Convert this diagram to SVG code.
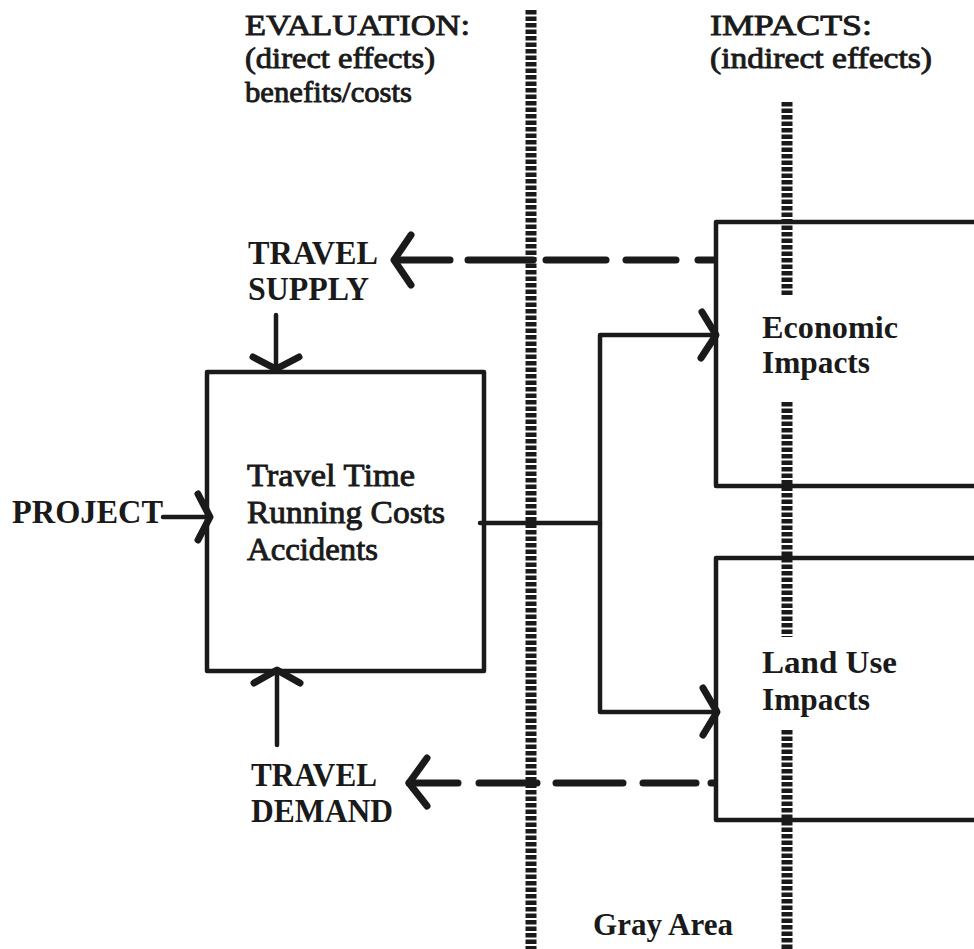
<svg xmlns="http://www.w3.org/2000/svg" width="974" height="949" viewBox="0 0 974 949">
<style>
  .t { font-family: "Liberation Serif", "Times New Roman", serif; fill: #1a1a1a; }
  .b { font-weight: bold; }
  .m { stroke: #1a1a1a; stroke-width: 0.9; }
  .line { fill: none; stroke: #1a1a1a; stroke-width: 4.5; stroke-linecap: round; stroke-linejoin: round; }
  .dash { fill: none; stroke: #1a1a1a; stroke-width: 7; stroke-linecap: round; }
  .head { fill: none; stroke: #1a1a1a; stroke-width: 7; stroke-linecap: round; stroke-linejoin: round; }
  .dotted { fill: none; stroke: #1a1a1a; stroke-width: 11; stroke-dasharray: 4.5 2; }
</style>
<rect width="974" height="949" fill="#ffffff"/>

<g id="dividers">
  <line class="dotted" x1="531" y1="10" x2="531" y2="949"/>
  <line class="dotted" x1="787" y1="102" x2="787" y2="297"/>
  <line class="dotted" x1="787" y1="402" x2="787" y2="637"/>
  <line class="dotted" x1="787" y1="730" x2="787" y2="949"/>
</g>

<g id="headers">
  <text class="t m" x="245" y="35" font-size="30" textLength="225" lengthAdjust="spacingAndGlyphs">EVALUATION:</text>
  <text class="t m" x="245" y="68" font-size="30" textLength="190" lengthAdjust="spacingAndGlyphs">(direct effects)</text>
  <text class="t m" x="245" y="102" font-size="30" textLength="167" lengthAdjust="spacingAndGlyphs">benefits/costs</text>
  <text class="t m" x="710" y="35" font-size="30" textLength="162" lengthAdjust="spacingAndGlyphs">IMPACTS:</text>
  <text class="t m" x="710" y="68" font-size="30" textLength="222" lengthAdjust="spacingAndGlyphs">(indirect effects)</text>
</g>

<g id="travel-supply">
  <text class="t b" x="248" y="264" font-size="33" textLength="130" lengthAdjust="spacingAndGlyphs">TRAVEL</text>
  <text class="t b" x="248" y="300" font-size="33" textLength="121" lengthAdjust="spacingAndGlyphs">SUPPLY</text>
</g>

<g id="travel-demand">
  <text class="t b" x="251" y="786" font-size="33" textLength="126" lengthAdjust="spacingAndGlyphs">TRAVEL</text>
  <text class="t b" x="251" y="822" font-size="33" textLength="142" lengthAdjust="spacingAndGlyphs">DEMAND</text>
</g>

<g id="project">
  <text class="t b" x="12" y="523" font-size="33" textLength="151" lengthAdjust="spacingAndGlyphs">PROJECT</text>
</g>

<g id="direct-effects-box">
  <rect class="line" x="207" y="372" width="277" height="299"/>
  <text class="t m" x="247" y="486" font-size="32" textLength="168" lengthAdjust="spacingAndGlyphs">Travel Time</text>
  <text class="t m" x="247" y="523" font-size="32" textLength="198" lengthAdjust="spacingAndGlyphs">Running Costs</text>
  <text class="t m" x="247" y="560" font-size="32" textLength="131" lengthAdjust="spacingAndGlyphs">Accidents</text>
</g>

<g id="economic-impacts">
  <path class="line" d="M980 222 H716 V486 H980"/>
  <text class="t b" x="762" y="338" font-size="32" textLength="136" lengthAdjust="spacingAndGlyphs">Economic</text>
  <text class="t b" x="762" y="373" font-size="32" textLength="108" lengthAdjust="spacingAndGlyphs">Impacts</text>
</g>

<g id="land-use-impacts">
  <path class="line" d="M980 558 H716 V820 H980"/>
  <text class="t b" x="762" y="673" font-size="32" textLength="135" lengthAdjust="spacingAndGlyphs">Land Use</text>
  <text class="t b" x="762" y="710" font-size="32" textLength="108" lengthAdjust="spacingAndGlyphs">Impacts</text>
</g>

<g id="gray-area">
  <text class="t b" x="593" y="935" font-size="32" textLength="140" lengthAdjust="spacingAndGlyphs">Gray Area</text>
</g>

<g id="connectors">
  <!-- supply feedback (dashed) -->
  <line class="dash" x1="395" y1="260" x2="450" y2="260"/>
  <line class="dash" x1="468" y1="260" x2="533" y2="260"/>
  <line class="dash" x1="546" y1="260" x2="606" y2="260"/>
  <line class="dash" x1="626" y1="260" x2="676" y2="260"/>
  <line class="dash" x1="698" y1="260" x2="714" y2="260"/>
  <polyline class="head" points="411,235 394,260 411,285"/>
  <!-- demand feedback (dashed) -->
  <line class="dash" x1="409" y1="783" x2="458" y2="783"/>
  <line class="dash" x1="479" y1="783" x2="537" y2="783"/>
  <line class="dash" x1="556" y1="783" x2="623" y2="783"/>
  <line class="dash" x1="643" y1="783" x2="696" y2="783"/>
  <line class="dash" x1="711" y1="783" x2="714" y2="783"/>
  <polyline class="head" points="427,758 409,783 427,806"/>
  <!-- supply to box -->
  <line class="line" x1="276" y1="315" x2="276" y2="369"/>
  <polyline class="head" points="253,357 276,369 299,357"/>
  <!-- demand to box -->
  <line class="line" x1="277" y1="745" x2="277" y2="673"/>
  <polyline class="head" points="254,683 277,670 300,683"/>
  <!-- project to box -->
  <line class="line" x1="163" y1="517" x2="208" y2="517"/>
  <polyline class="head" points="198,494 210,517 198,540"/>
  <!-- box to impacts -->
  <path class="line" d="M480 523 H600"/>
  <path class="line" d="M714 335 H600 V712 H714"/>
  <polyline class="head" points="702,312 716,335 701,358"/>
  <polyline class="head" points="703,688 717,712 703,735"/>
</g>
</svg>
